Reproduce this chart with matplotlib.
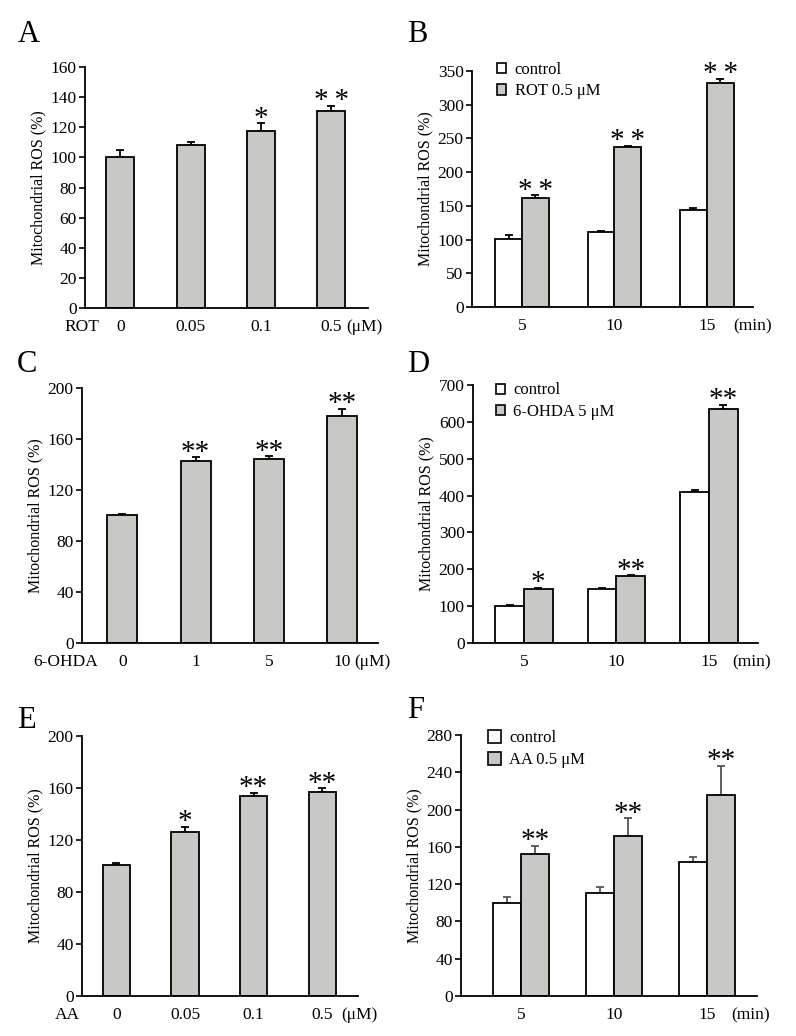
import matplotlib
matplotlib.use("Agg")
import matplotlib.pyplot as plt
from matplotlib.patches import Patch
import numpy as np

plt.rcParams['font.family'] = ['Liberation Serif', 'DejaVu Serif']
plt.rcParams['font.size'] = 11

# ---------------- data ----------------
# Panel A: ROT dose
a_labels = ["0", "0.05", "0.1", "0.5"]
a_vals = [100, 108.5, 117.5, 130.5]
a_errs = [5, 2, 5, 3.5]
a_stars = ["", "", "*", "*\u2009*"]

# Panel B: ROT time course
b_times = ["5", "10", "15"]
b_ctrl = [100.5, 111, 144]
b_ctrl_err = [6.5, 1, 3]
b_trt = [161, 238, 332.5]
b_trt_err = [4.5, 0.6, 5.5]
b_stars = ["*\u2009*", "*\u2009*", "*\u2009*"]

# Panel C: 6-OHDA dose
c_labels = ["0", "1", "5", "10"]
c_vals = [100.3, 142.5, 144.5, 178]
c_errs = [1, 3, 1.8, 5.5]
c_stars = ["", "**", "**", "**"]

# Panel D: 6-OHDA time course
d_times = ["5", "10", "15"]
d_ctrl = [101, 146, 411]
d_ctrl_err = [1, 4, 3.5]
d_trt = [146, 181, 634]
d_trt_err = [3, 2.5, 13]
d_stars = ["*", "**", "**"]

# Panel E: AA dose
e_labels = ["0", "0.05", "0.1", "0.5"]
e_vals = [100.4, 126, 153.8, 157]
e_errs = [2, 4, 2.6, 2.7]
e_stars = ["", "*", "**", "**"]

# Panel F: AA time course
f_times = ["5", "10", "15"]
f_ctrl = [100, 111, 143.5]
f_ctrl_err = [6.5, 5.6, 5.4]
f_trt = [152, 172, 216]
f_trt_err = [9.3, 18.6, 31]
f_stars = ["**", "**", "**"]

GRAY = "#c8c8c4"
YLABEL = "Mitochondrial ROS (%)"
TICK_FS = 12.5

fig = plt.figure(figsize=(7.96, 10.36), dpi=100)


def style_axes(ax, ymax, ystep):
    for s in ["top", "right"]:
        ax.spines[s].set_visible(False)
    ax.spines["left"].set_linewidth(1.3)
    ax.spines["bottom"].set_linewidth(1.3)
    ax.set_ylim(0, ymax)
    ax.set_yticks(np.arange(0, ymax + 1, ystep))
    ax.tick_params(axis="y", direction="out", length=4, width=1.2, labelsize=TICK_FS, pad=2)
    ax.tick_params(axis="x", length=0, labelsize=TICK_FS, pad=8)
    ax.set_ylabel(YLABEL, fontsize=11.5, labelpad=3)


def put_star(ax, x, top, s):
    if s:
        ax.annotate(s, xy=(x, top), xytext=(0, -6), textcoords="offset points",
                    ha="center", va="bottom", fontsize=21, annotation_clip=False)


def xlabel_extra(ax, x, s):
    ax.annotate(s, xy=(x, 0), xycoords=("data", "axes fraction"),
                xytext=(0, -8), textcoords="offset points",
                ha="center", va="top", fontsize=TICK_FS, annotation_clip=False)


def single_panel(rect, labels, vals, errs, stars, ymax, ystep, left_txt, left_x,
                 unit_x, width, xlim):
    ax = fig.add_axes(rect)
    x = np.arange(len(vals))
    ax.bar(x, vals, width=width, color=GRAY, edgecolor="black", linewidth=1.3, zorder=2)
    ax.errorbar(x, vals, yerr=[np.zeros(len(errs)), errs], fmt="none",
                ecolor="black", elinewidth=1.3, capsize=3, capthick=1.3, zorder=1)
    for xi, v, e, s in zip(x, vals, errs, stars):
        put_star(ax, xi, v + e, s)
    style_axes(ax, ymax, ystep)
    ax.set_xlim(*xlim)
    ax.set_xticks(x)
    ax.set_xticklabels(labels)
    xlabel_extra(ax, left_x, left_txt)
    xlabel_extra(ax, unit_x, "(\u03bcM)")
    return ax


def group_panel(rect, times, ctrl, ctrl_err, trt, trt_err, stars, ymax, ystep,
                trt_label, width, xlim, unit_x, leg_anchor, ecolor, hsize):
    ax = fig.add_axes(rect)
    x = np.arange(len(times))
    ax.bar(x - width / 2, ctrl, width=width, color="white", edgecolor="black",
           linewidth=1.3, zorder=2)
    ax.bar(x + width / 2, trt, width=width, color=GRAY, edgecolor="black",
           linewidth=1.3, zorder=2)
    ax.errorbar(x - width / 2, ctrl, yerr=[np.zeros(len(ctrl)), ctrl_err], fmt="none",
                ecolor=ecolor, elinewidth=1.3, capsize=3, capthick=1.3, zorder=1)
    ax.errorbar(x + width / 2, trt, yerr=[np.zeros(len(trt)), trt_err], fmt="none",
                ecolor=ecolor, elinewidth=1.3, capsize=3, capthick=1.3, zorder=1)
    for xi, v, e, s in zip(x, trt, trt_err, stars):
        put_star(ax, xi + width / 2, v + e, s)
    style_axes(ax, ymax, ystep)
    ax.set_xlim(*xlim)
    ax.set_xticks(x)
    ax.set_xticklabels(times)
    xlabel_extra(ax, unit_x, "(min)")
    handles = [Patch(facecolor="white", edgecolor="black", linewidth=1.2, label="control"),
               Patch(facecolor=GRAY, edgecolor="black", linewidth=1.2, label=trt_label)]
    ax.legend(handles=handles, loc="upper left", bbox_to_anchor=leg_anchor,
              frameon=False, handlelength=hsize, handleheight=hsize, handletextpad=0.5,
              labelspacing=0.35, borderaxespad=0, borderpad=0, fontsize=12)
    return ax


W, H = 796.0, 1036.0


def rect(l, r, t, b):
    return [l / W, 1 - b / H, (r - l) / W, (b - t) / H]


single_panel(rect(85, 368, 67, 308), a_labels, a_vals, a_errs, a_stars, 160, 20,
             "ROT", -0.55, 3.47, 0.4, (-0.5, 3.52))
group_panel(rect(472, 753, 71, 307), b_times, b_ctrl, b_ctrl_err, b_trt, b_trt_err,
            b_stars, 350, 50, "ROT 0.5 \u03bcM", 0.29, (-0.54, 2.5), 2.5,
            (0.09, 1.04), "black", 0.55)
single_panel(rect(82, 378, 388, 643), c_labels, c_vals, c_errs, c_stars, 200, 40,
             "6-OHDA", -0.78, 3.42, 0.41, (-0.55, 3.49))
group_panel(rect(473, 758, 385, 643), d_times, d_ctrl, d_ctrl_err, d_trt, d_trt_err,
            d_stars, 700, 100, "6-OHDA 5 \u03bcM", 0.31, (-0.55, 2.53), 2.46,
            (0.08, 1.01), "black", 0.55)
single_panel(rect(82, 358, 736, 996), e_labels, e_vals, e_errs, e_stars, 200, 40,
             "AA", -0.71, 3.54, 0.4, (-0.5, 3.52))
group_panel(rect(461, 757, 735, 996), f_times, f_ctrl, f_ctrl_err, f_trt, f_trt_err,
            f_stars, 280, 40, "AA 0.5 \u03bcM", 0.3, (-0.645, 2.54), 2.47,
            (0.09, 1.02), "#555555", 0.8)

# panel letters
for letter, px, py in [("A", 18, 42), ("B", 407, 42), ("C", 17, 372),
                       ("D", 407, 372), ("E", 17, 728), ("F", 407, 718)]:
    fig.text(px / W, 1 - py / H, letter, fontsize=22, ha="left", va="baseline")

fig.savefig("out.png", dpi=100, facecolor="white")
